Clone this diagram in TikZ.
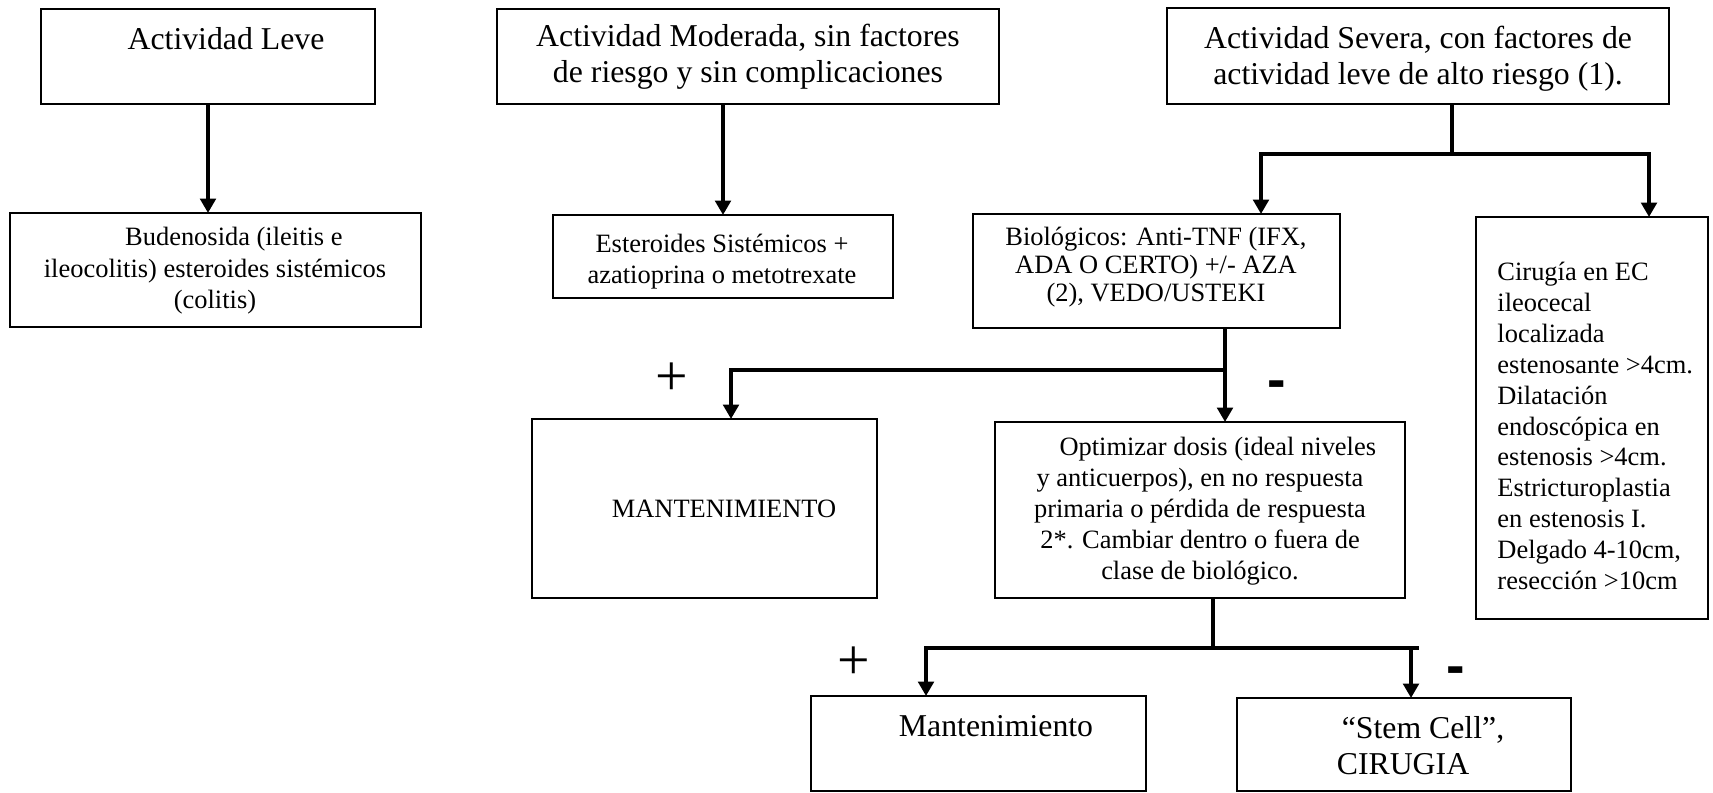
\documentclass[tikz,border=0pt]{standalone}
\usepackage{fontspec}
\setmainfont{Liberation Serif}
\newfontfamily\sansf{Liberation Sans}
\usetikzlibrary{arrows.meta,fit}
\begin{document}
\begin{tikzpicture}[x=0.45pt,y=-0.45pt,
  box/.style={draw, line width=1.2pt, inner sep=0pt, outer sep=0pt},
  ln/.style={line width=2pt},
  arr/.style={line width=2pt, -{Triangle[length=6.5pt,width=7pt]}},
  txt/.style={inner sep=0pt, align=center},
  sm/.style={font=\fontsize{11.9pt}{13.9pt}\selectfont},
  bg/.style={font=\fontsize{14.3pt}{16.2pt}\selectfont},
  plus/.style={inner sep=0pt, anchor=base, font=\fontsize{26pt}{26pt}\selectfont},
  minus/.style={inner sep=0pt, anchor=base, font=\sansf\bfseries\fontsize{25pt}{25pt}\selectfont}]
\useasboundingbox (0,0) rectangle (1713,793);

% boxes
\node[box, fit={(41,9) (375,104)}] (leve) {};
\node[box, fit={(10,213) (421,327)}] (bude) {};
\node[box, fit={(497,9) (999,104)}] (mod) {};
\node[box, fit={(553,215) (893,298)}] (este) {};
\node[box, fit={(1167,8) (1669,104)}] (sev) {};
\node[box, fit={(973,214) (1340,328)}] (bio) {};
\node[box, fit={(1476,217) (1708,619)}] (cir) {};
\node[box, fit={(532,419) (877,598)}] (mant1) {};
\node[box, fit={(995,422) (1405,598)}] (opt) {};
\node[box, fit={(811,696) (1146,791)}] (mant2) {};
\node[box, fit={(1237,698) (1571,791)}] (stem) {};

% texts
\node[txt, bg] (tleve) at (226,39) {Actividad Leve};
\node[txt, sm, font=\fontsize{11.9pt}{14.2pt}\selectfont] (tbude) at (215,271)
  {\hspace*{17pt}Budenosida (ileitis e\\ileocolitis) esteroides sistémicos\\(colitis)};
\node[txt, bg] (tmod) at (748,57) {Actividad Moderada, sin factores\\de riesgo y sin complicaciones};
\node[txt, sm] (teste) at (722,262) {Esteroides Sistémicos +\\azatioprina o metotrexate};
\node[txt, bg] (tsev) at (1418,59) {Actividad Severa, con factores de\\actividad leve de alto riesgo (1).};
\node[txt, font=\fontsize{11.9pt}{12.6pt}\selectfont] (tbio) at (1156,267)
  {Biológicos: Anti-TNF (IFX,\\ADA O CERTO) +/- AZA\\(2), VEDO/USTEKI};
\node[inner sep=0pt, align=left, anchor=west, sm] (tcir) at (1497,426)
  {Cirugía en EC\\ileocecal\\localizada\\estenosante >4cm.\\Dilatación\\endoscópica en\\estenosis >4cm.\\Estricturoplastia\\en estenosis I.\\Delgado 4-10cm,\\resección >10cm};
\node[txt, sm] (tmant1) at (724,509) {MANTENIMIENTO};
\node[txt, sm] (topt) at (1200,511)
  {\hspace*{16pt}Optimizar dosis (ideal niveles\\y anticuerpos), en no respuesta\\primaria o pérdida de respuesta\\2*. Cambiar dentro o fuera de\\clase de biológico.};
\node[txt, bg] (tmant2) at (996,726) {Mantenimiento};
\node[txt, bg] (tstem) at (1403,746) {\hspace*{18pt}“Stem Cell”,\\CIRUGIA};

% branch points
\coordinate (s1) at (1452,154);
\coordinate (s1l) at (1261,154);
\coordinate (s1r) at (1649,154);
\coordinate (s2) at (1225,370);
\coordinate (s2l) at (731,370);
\coordinate (s3) at (1213,648);
\coordinate (s3l) at (926,648);
\coordinate (s3r) at (1411,648);
\coordinate (s3e) at (1419,648);

% connectors
\draw[arr] (leve.south) -- (leve.south |- bude.north);
\draw[arr] (este.north |- mod.south) -- (este.north);
\draw[ln] (sev.south -| s1) -- (s1);
\draw[arr] (s1) -- (s1l) -- (s1l |- bio.north);
\draw[arr] (s1) -- (s1r) -- (s1r |- cir.north);
\draw[arr] (bio.south -| s2) -- (s2 |- opt.north);
\draw[arr] (s2) -- (s2l) -- (s2l |- mant1.north);
\draw[ln] (opt.south -| s3) -- (s3);
\draw[arr] (s3) -- (s3l) -- (s3l |- mant2.north);
\draw[ln] (s3) -- (s3e);
\draw[arr] (s3r) -- (s3r |- stem.north);

% signs
\node[plus] (p1) at (672,396) {+};
\node[minus] (m1) at (1277,399) {-};
\node[plus] (p2) at (854,679) {+};
\node[minus] (m2) at (1456,684) {-};
\end{tikzpicture}
\end{document}
